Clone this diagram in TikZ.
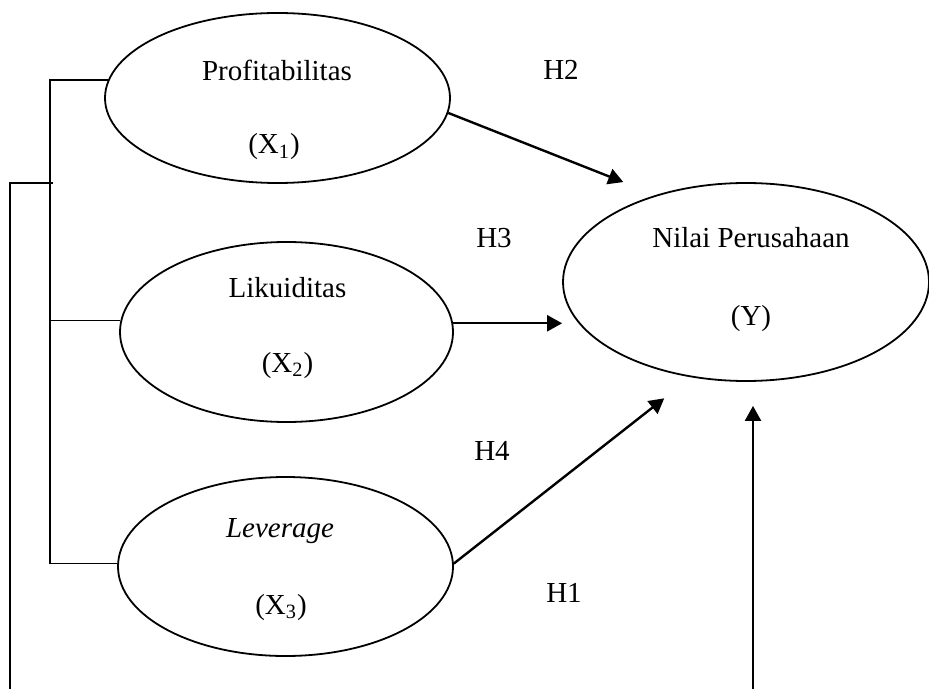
\documentclass[tikz,border=0pt]{standalone}
\usepackage{fontspec}
\setmainfont{Liberation Serif}
\usetikzlibrary{shapes.geometric,arrows.meta}

\begin{document}
\begin{tikzpicture}[x=0.5pt,y=-0.5pt,
  var/.style={draw,ellipse,line width=0.9pt,inner sep=0pt},
  txt/.style={anchor=base,inner sep=0pt,font=\fontsize{14.5}{17}\selectfont},
  hyp/.style={-{Triangle[length=7.5pt,width=8pt]},line width=1.2pt},
  brk/.style={line width=0.8pt}]

\useasboundingbox (0,0) rectangle (929,689);


\node[var,minimum width=172.5pt,minimum height=85pt] (x1) at (277.5,98) {};
\node[var,minimum width=166.5pt,minimum height=90pt] (x2) at (286.5,332) {};
\node[var,minimum width=167.5pt,minimum height=89.5pt] (x3) at (285.5,566.5) {};
\node[var,minimum width=183pt,minimum height=99pt] (y) at (746,282) {};


\node[txt] (lx1) at (277,81) {Profitabilitas};
\node[txt] (sx1) at (274,154) {(X\textsubscript{1})};
\node[txt] (lx2) at (287.5,297) {Likuiditas};
\node[txt] (sx2) at (287.5,372) {(X\textsubscript{2})};
\node[txt] (lx3) at (280,537) {\itshape Leverage};
\node[txt] (sx3) at (281,614) {(X\textsubscript{3})};
\node[txt] (ly) at (751,248) {Nilai Perusahaan};
\node[txt] (sy) at (751,325) {(Y)};


\node[txt] (h2) at (561,80) {H2};
\node[txt] (h3) at (494,248) {H3};
\node[txt] (h4) at (492,460) {H4};
\node[txt] (h1) at (564,602) {H1};


%bracket on the left
\coordinate (bar) at (50,0);
\coordinate (lbot) at (10,689);
\coordinate (ltip) at (53,183);
\coordinate (ybot) at (753,689);

\draw[brk] (x1.174) -- (x1.174 -| bar) -- (x3.179 -| bar) -- (x3.179);
\draw[brk] (x2.176) -- (x2.176 -| bar);
\draw[brk] (lbot) |- (ltip);


\draw[hyp,shorten >=17.5pt] (x1.-5) -- (y.136);
\draw[hyp] (x2.3) -- (x2.3 -| y.west);
\draw[hyp,shorten >=17pt] (x3.1) -- (y.240);
\draw[hyp,shorten >=12pt] (ybot) -- (ybot |- y.south);

\end{tikzpicture}
\end{document}
